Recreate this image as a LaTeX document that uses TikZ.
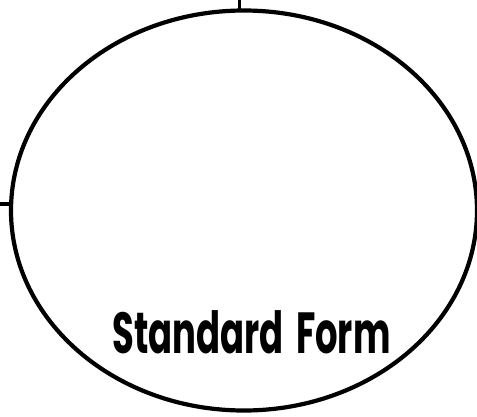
\documentclass[tikz,border=0pt]{standalone}
\usepackage{fontspec}
\setmainfont{Poppins}
\usetikzlibrary{shapes.geometric}
\begin{document}
\begin{tikzpicture}[x=1pt,y=-1pt,
  oval/.style={draw=black,line width=4.2pt,ellipse,inner sep=0pt,minimum width=466pt,minimum height=400pt},
  tick/.style={draw=black,line width=3.2pt},
  label/.style={font=\fontsize{58}{60}\selectfont\bfseries,inner sep=0pt,anchor=base}]
\useasboundingbox (0,0) rectangle (477,416);
\node[oval] (e) at (244,210.5) {};
\coordinate (t0) at (239.5,0);
\coordinate (t1) at (239.5,10);
\coordinate (l0) at (0,204);
\coordinate (l1) at (10,204);
\draw[tick] (t0) -- (t1);
\draw[tick] (l0) -- (l1);
\node[label] (txt) at (251.5,353) {\scalebox{0.61}[1]{Standard\hspace{0.35em}Form}};
\end{tikzpicture}
\end{document}
